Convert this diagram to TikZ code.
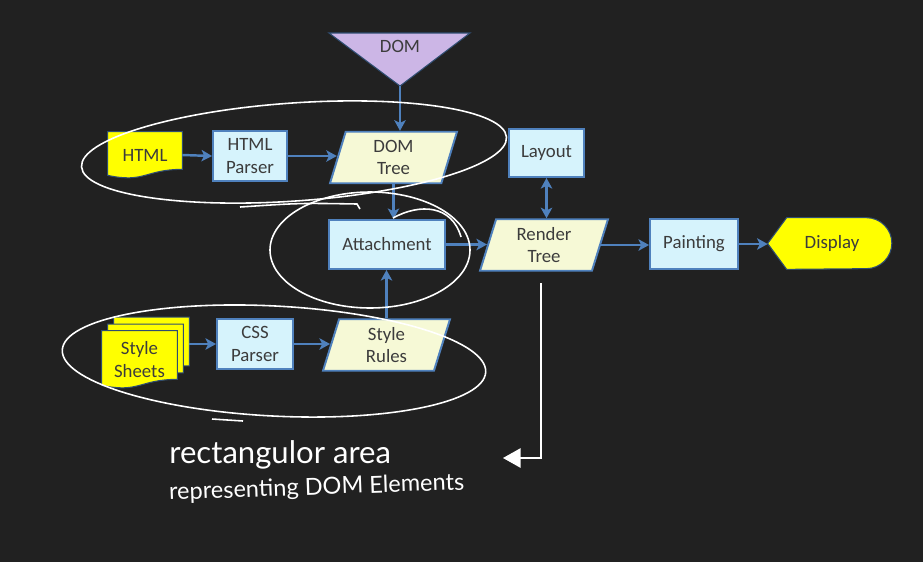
\documentclass[tikz,border=0pt]{standalone}
\usepackage{fontspec}
\setmainfont{Carlito}
\newfontfamily\handfont{Lato}
\usetikzlibrary{arrows.meta,positioning,calc,shapes.geometric}

\definecolor{board}{RGB}{33,33,33}
\definecolor{flowblue}{RGB}{79,129,189}
\definecolor{boxfill}{RGB}{214,243,252}
\definecolor{datafill}{RGB}{246,249,214}
\definecolor{docyellow}{RGB}{255,255,0}
\definecolor{domlilac}{RGB}{204,182,230}
\definecolor{ink}{RGB}{60,60,60}

\pgfdeclarelayer{board}
\pgfdeclarelayer{shapes}
\pgfsetlayers{board,shapes,main}

\newcommand{\docpath}[1]{(#1.north west) -- (#1.north east) -- ($(#1.south east)+(0,-9)$) .. controls ($(#1.south)+(0,-9)$) and ($(#1.south)+(0,5)$) .. ($(#1.south west)+(0,-3)$) -- cycle}

\begin{document}
\begin{tikzpicture}[x=0.02cm, y=-0.02cm,
	every node/.style={font=\fontsize{10.7}{13}\selectfont, text=ink, align=center},
	proc/.style={draw=flowblue, fill=boxfill, line width=1.1pt, minimum height=1cm, inner sep=0pt},
	data/.style={trapezium, trapezium left angle=66, trapezium right angle=114, trapezium stretches body,
		draw=flowblue, fill=datafill, line width=1.1pt, minimum height=1.03cm, inner sep=0pt},
	paper/.style={inner sep=0pt},
	docline/.style={fill=docyellow, draw=flowblue!60!black, line width=0.6pt},
	flow/.style={draw=flowblue, line width=1.4pt, -{Stealth[length=6pt, width=6.5pt, inset=1.5pt]}},
	chalk/.style={draw=white, line width=0.9pt},
	hand/.style={text=white, inner sep=0pt, anchor=base west}]
	\begin{pgfonlayer}{board}
		\fill[board] (0,0) rectangle (923,562);
	\end{pgfonlayer}
	\useasboundingbox (0,0) rectangle (923,562);

	\node (dom) at (400,46) {DOM};
	\coordinate (domtip) at (400,86);
	\node[paper, minimum width=1.48cm, minimum height=0.92cm] (html) at (145,155) {HTML};
	\node[proc, minimum width=1.48cm] (htmlp) at (250,156) {HTML\\Parser};
	\node[data, minimum width=2.54cm] (domt) at (393.5,157.5) {DOM\\Tree};
	\node[proc, minimum width=1.5cm, minimum height=0.96cm] (layout) at (546.5,153) {Layout};
	\node[proc, minimum width=2.32cm, minimum height=0.98cm] (att) at (387,244.5) {Attachment};
	\node[data, minimum width=2.56cm] (rtree) at (544,245) {Render\\Tree};
	\node[proc, minimum width=1.76cm] (paint) at (694,244) {Painting};
	\node[paper, minimum width=2.46cm, minimum height=1.02cm] (disp) at (829.5,243.5) {\hspace{0.1cm}Display};
	\node[paper, minimum width=1.5cm, minimum height=1.14cm] (ss3) at (151.5,346) {};
	\node[paper, minimum width=1.5cm, minimum height=1.14cm] (ss2) at (145.5,353) {};
	\node[paper, minimum width=1.5cm, minimum height=1.14cm] (ss) at (139.5,359.5) {Style\\Sheets};
	\node[proc, minimum width=1.52cm] (cssp) at (255,344) {CSS\\Parser};
	\node[data, minimum width=2.54cm] (srules) at (386.5,345) {Style\\Rules};

	\begin{pgfonlayer}{shapes}
		\filldraw[fill=domlilac, draw=flowblue!60!black, line width=0.6pt] (329,33) -- (470,33) -- (domtip) -- cycle;
		\foreach \d in {html,ss3,ss2,ss} \filldraw[docline] \docpath{\d};
		\filldraw[docline] (disp.west) -- ($(disp.north west)+(19,0)$) -- ($(disp.north east)+(-25,0)$)
			arc[start angle=90, end angle=-90, radius=0.51cm] -- ($(disp.south west)+(19,0)$) -- cycle;
	\end{pgfonlayer}

	\draw[flow] (domtip) -- (domtip |- domt.north);
	\draw[flow] (html.east) -- (htmlp.west);
	\draw[flow] (htmlp.east) -- (htmlp.east -| domt.west);
	\draw[flow] (domt.south) -- (domt.south |- att.north);
	\draw[flow] (srules.north) -- (srules.north |- att.south);
	\draw[flow] (att.east) -- (att.east -| rtree.west);
	\draw[flow, {Stealth[length=6pt, width=6.5pt, inset=1.5pt]}-{Stealth[length=6pt, width=6.5pt, inset=1.5pt]}] (layout.south) -- (layout.south |- rtree.north);
	\draw[flow] (rtree.east) -- (rtree.east -| paint.west);
	\draw[flow] (paint.east) -- (paint.east -| disp.west);
	\draw[flow] (cssp.west -| ss3.east) -- (cssp.west);
	\draw[flow] (cssp.east) -- (cssp.east -| srules.west);

	\draw[chalk, rotate around={4:(294,152)}] (294,152) ellipse [x radius=213, y radius=49];
	\draw[chalk] (240,207) .. controls (300,203) .. (357,204) -- (360,209);
	\draw[chalk] (370,250) ellipse [x radius=100, y radius=58];
	\draw[chalk] (393,218) .. controls (420,203) and (452,205) .. (461,237);
	\draw[chalk, rotate around={-3:(274,361)}] (274,361) ellipse [x radius=212, y radius=55];
	\draw[chalk] (212,419) -- (243,421);
	\coordinate (notefrom) at (541,283);
	\coordinate (noteto) at (503,458);
	\draw[chalk, -{Triangle[length=10pt, width=11pt]}] (notefrom) |- (noteto);

	\node[hand, font=\handfont\fontsize{17.7}{20}\selectfont] (note1) at (169,463) {rectangulor area};
	\node[hand, font=\handfont\fontsize{13.4}{16}\selectfont, rotate=2] (note2) at (169,500) {representing DOM Elements};
\end{tikzpicture}
\end{document}
